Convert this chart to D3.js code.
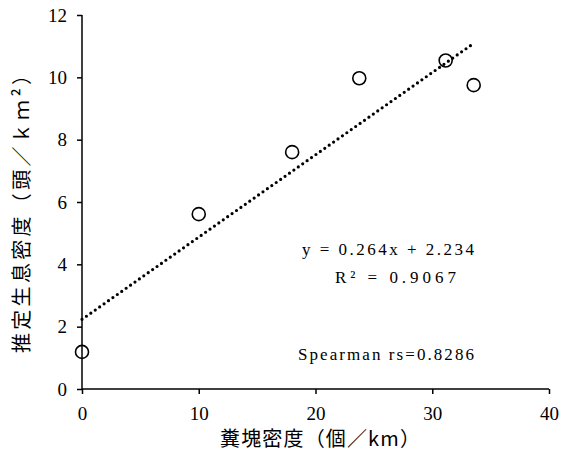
<!DOCTYPE html>
<html>
<head>
<meta charset="utf-8">
<script src="https://cdn.jsdelivr.net/npm/d3@7"></script>
<style>
  html, body { margin: 0; padding: 0; background: #fff; }
  svg { display: block; }
  .serif { font-family: "Liberation Serif", "Times New Roman", "DejaVu Serif", serif; }
</style>
</head>
<body>
<svg id="chart" width="562" height="453"></svg>
<script>
// ---- data ----
const fecalDensity = [0, 10, 18, 23.75, 31.15, 33.55];          // 糞塊密度 (個/km)
const estimatedDensity = [1.19, 5.61, 7.60, 9.97, 10.54, 9.75]; // 推定生息密度 (頭/km²)
const xTicks = [0, 10, 20, 30, 40];
const yTicks = [0, 2, 4, 6, 8, 10, 12];
const trendSlope = 0.264;
const trendIntercept = 2.234;
const xTitle = "糞塊密度（個／km）";
const yTitle = "推定生息密度（頭／ｋｍ²）";
const annotations = ["y = 0.264x + 2.234", "R² = 0.9067", "Spearman rs=0.8286"];

// ---- layout ----
const W = 562, H = 453;
const m = { left: 82, right: 13, top: 15, bottom: 64 };
const svg = d3.select("#chart");
const x = d3.scaleLinear().domain([0, 40]).range([m.left, W - m.right]);
const y = d3.scaleLinear().domain([0, 12]).range([H - m.bottom, m.top]);

const serif = "Liberation Serif";
const cjk = "Noto Sans CJK JP";

// axes
const xAxis = svg.append("g")
  .attr("transform", `translate(0,${y(0)})`)
  .call(d3.axisBottom(x).tickValues(xTicks).tickSize(5).tickPadding(13).tickFormat(d3.format("d")));
const yAxis = svg.append("g")
  .attr("transform", `translate(${x(0)},0)`)
  .call(d3.axisLeft(y).tickValues(yTicks).tickSize(5).tickPadding(10).tickFormat(d3.format("d")));

[xAxis, yAxis].forEach(g => {
  g.attr("font-family", serif).attr("font-size", 19);
  g.select(".domain").attr("stroke", "#000").attr("stroke-width", 1.5);
  g.selectAll(".tick line").attr("stroke", "#000").attr("stroke-width", 1.5);
  g.selectAll(".tick text").attr("fill", "#000").attr("class", "serif")
    .attr("font-family", serif).attr("font-size", 19);
});
xAxis.select(".domain").attr("d", `M${x(0)},0H${x(40)}`);
yAxis.select(".domain").attr("d", `M0,${y(0)}V${y(12)}`);

// trendline (dotted)
const xMin = d3.min(fecalDensity), xMax = d3.max(fecalDensity);
svg.append("line")
  .attr("x1", x(xMin)).attr("y1", y(trendSlope * xMin + trendIntercept))
  .attr("x2", x(xMax)).attr("y2", y(trendSlope * xMax + trendIntercept))
  .attr("stroke", "#000")
  .attr("stroke-width", 3.2)
  .attr("stroke-linecap", "round")
  .attr("stroke-dasharray", "0 5.4");

// points
svg.append("g").selectAll("circle")
  .data(fecalDensity.map((d, i) => [d, estimatedDensity[i]]))
  .join("circle")
  .attr("cx", d => x(d[0]))
  .attr("cy", d => y(d[1]))
  .attr("r", 6.5)
  .attr("fill", "none")
  .attr("stroke", "#000")
  .attr("stroke-width", 1.6);

// annotations
const ann = svg.append("g").attr("font-family", serif).attr("font-size", 17).attr("fill", "#000");
const annPos = [[302, 255, 172], [335, 283, 121], [298, 360, 176]];
annotations.forEach((t, i) => {
  ann.append("text").attr("class", "serif")
    .attr("x", annPos[i][0]).attr("y", annPos[i][1])
    .attr("textLength", annPos[i][2]).attr("lengthAdjust", "spacing")
    .text(t);
});

// axis titles
svg.append("text")
  .attr("x", 220).attr("y", 446)
  .attr("textLength", 200).attr("lengthAdjust", "spacing")
  .attr("font-family", cjk).attr("font-size", 20).attr("fill", "#000")
  .text(xTitle);

svg.append("text")
  .attr("transform", `translate(29,353) rotate(-90)`)
  .attr("textLength", 288).attr("lengthAdjust", "spacing")
  .attr("font-family", cjk).attr("font-size", 20).attr("fill", "#000")
  .text(yTitle);
</script>
</body>
</html>
